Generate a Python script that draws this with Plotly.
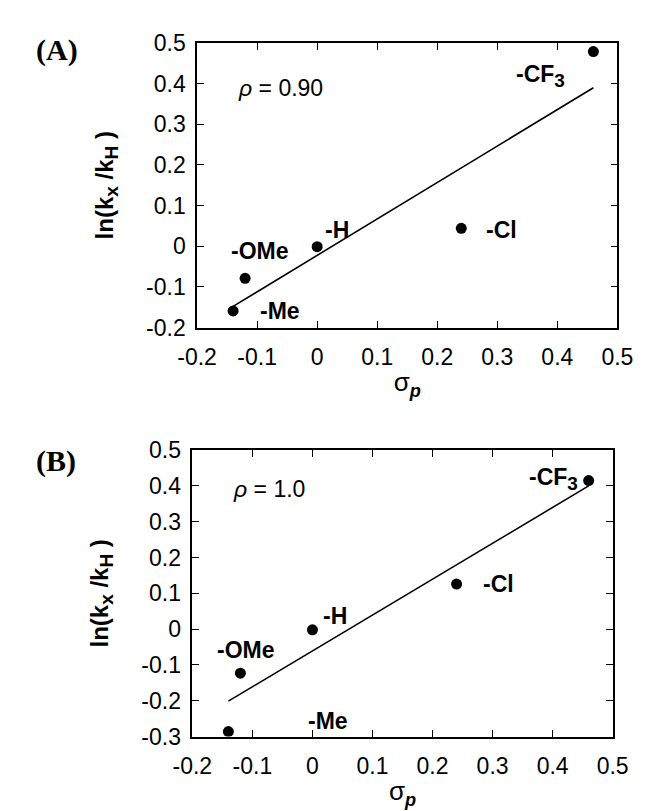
import plotly.graph_objects as go

# Hammett plots: sigma_p vs ln(kX/kH)
SUB = "<sub><span style='font-size:19px'>%s</span></sub>"
substituents = ["-Me", "-OMe", "-H", "-Cl", "-CF" + SUB % "3"]
sigma_p = [-0.14, -0.12, 0.0, 0.24, 0.46]

ln_ratio_a = [-0.159, -0.079, -0.001, 0.044, 0.479]
ln_ratio_b = [-0.286, -0.123, -0.002, 0.126, 0.415]

fit_x = [-0.14, 0.46]
fit_y_a = [-0.148, 0.390]
fit_y_b = [-0.201, 0.400]

rho_a = "0.90"
rho_b = "1.0"

# label anchor points (left edge, vertical middle) in data units
label_xy_a = [(-0.099, -0.159), (-0.147, -0.011), (0.009, 0.041), (0.278, 0.040), (0.328, 0.420)]
label_xy_b = [(-0.010, -0.257), (-0.162, -0.059), (0.014, 0.036), (0.281, 0.126), (0.357, 0.418)]

x_ticks = [-0.2, -0.1, 0, 0.1, 0.2, 0.3, 0.4, 0.5]
y_ticks_a = [-0.2, -0.1, 0, 0.1, 0.2, 0.3, 0.4, 0.5]
y_ticks_b = [-0.3, -0.2, -0.1, 0, 0.1, 0.2, 0.3, 0.4, 0.5]

SANS = "Liberation Sans, Arial, sans-serif"
SERIF = "Liberation Serif, Times New Roman, serif"
W, H = 649, 811


def tick_text(vals):
    return [("%g" % v) for v in vals]


fig = go.Figure()

panels = [
    ("x", "y", ln_ratio_a, fit_y_a, label_xy_a, rho_a),
    ("x2", "y2", ln_ratio_b, fit_y_b, label_xy_b, rho_b),
]
for xa, ya, ys, fit_y, label_xy, rho in panels:
    fig.add_trace(go.Scatter(x=fit_x, y=fit_y, mode="lines", xaxis=xa, yaxis=ya,
                             line=dict(color="black", width=1.6), showlegend=False))
    fig.add_trace(go.Scatter(x=sigma_p, y=ys, mode="markers", xaxis=xa, yaxis=ya,
                             marker=dict(color="black", size=11), showlegend=False))
    for name, (lx, ly) in zip(substituents, label_xy):
        fig.add_annotation(x=lx, y=ly, xref=xa, yref=ya, text="<b>%s</b>" % name,
                           showarrow=False, xanchor="left", yanchor="middle",
                           font=dict(family=SANS, size=23, color="black"))
    fig.add_annotation(x=-0.135, y=0.39, xref=xa, yref=ya,
                       text="<i>\u03c1</i> = %s" % rho, showarrow=False,
                       xanchor="left", yanchor="middle",
                       font=dict(family=SANS, size=23, color="black"))

axis_common = dict(
    showgrid=False, zeroline=False, showline=True, linecolor="black", linewidth=1.5,
    mirror="allticks", ticks="inside", ticklen=7, tickwidth=1.3, tickcolor="black",
    tickfont=dict(family=SANS, size=23, color="black"),
)
x_title = dict(text="\u03c3<sub><b><i>p</i></b></sub>",
               font=dict(family=SANS, size=26, color="black"), standoff=4)
y_title = dict(text="<b>ln(k" + SUB % "x" + " /k" + SUB % "H" + " )</b>",
               font=dict(family=SANS, size=24, color="black"), standoff=26)

fig.update_layout(
    width=W, height=H,
    margin=dict(l=0, r=0, t=0, b=0),
    paper_bgcolor="white", plot_bgcolor="white",
    xaxis=dict(domain=[0.2758, 0.9615], anchor="y", range=[-0.2, 0.5],
               tickvals=x_ticks, ticktext=tick_text(x_ticks), ticklabelstandoff=8,
               title=x_title, **axis_common),
    yaxis=dict(domain=[0.6095, 0.972], anchor="x", range=[-0.2, 0.5],
               tickvals=y_ticks_a, ticktext=tick_text(y_ticks_a), ticklabelstandoff=5,
               title=y_title, **axis_common),
    xaxis2=dict(domain=[0.2681, 0.9538], anchor="y2", range=[-0.2, 0.5],
                tickvals=x_ticks, ticktext=tick_text(x_ticks), ticklabelstandoff=8,
                title=x_title, **axis_common),
    yaxis2=dict(domain=[0.0884, 0.4534], anchor="x2", range=[-0.3, 0.5],
                tickvals=y_ticks_b, ticktext=tick_text(y_ticks_b), ticklabelstandoff=5,
                title=y_title, **axis_common),
)

for label, ypx in (("(A)", 30), ("(B)", 455)):
    fig.add_annotation(x=6 / W, y=1 - ypx / H, xref="paper", yref="paper",
                       text="<b>%s</b>" % label, showarrow=False,
                       xanchor="left", yanchor="middle",
                       font=dict(family=SERIF, size=30, color="black"))

fig.write_html("out.html")
